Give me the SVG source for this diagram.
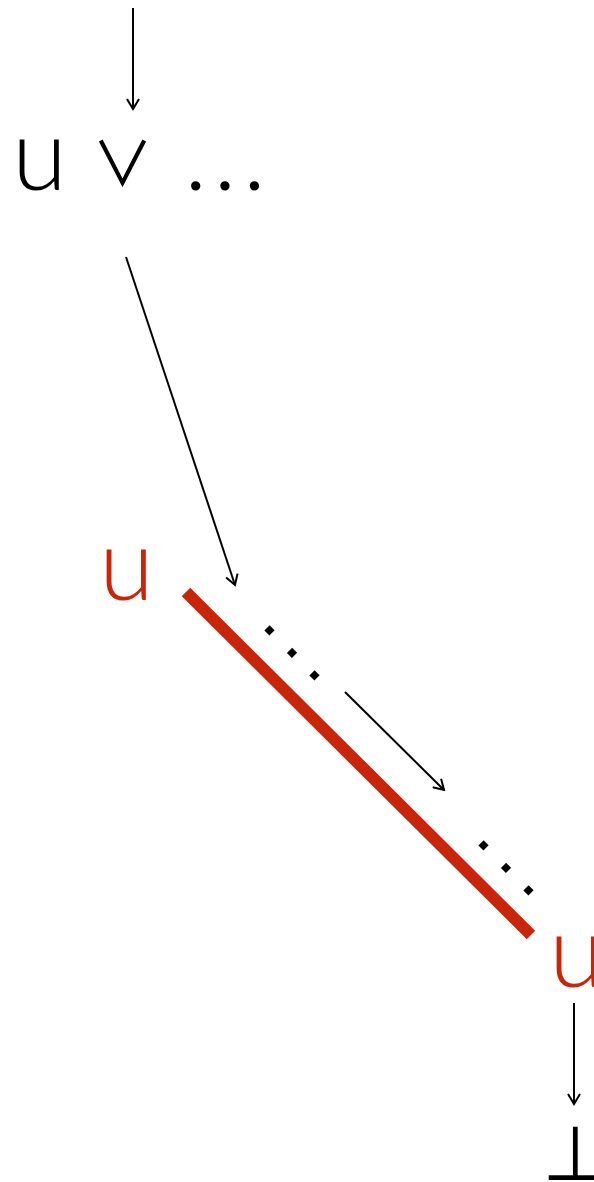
<svg xmlns="http://www.w3.org/2000/svg" width="594" height="1182" viewBox="0 0 594 1182">
<defs>
<marker id="ah" markerWidth="14" markerHeight="14" viewBox="-12 -7 14 14" refX="0" refY="0" orient="auto" markerUnits="userSpaceOnUse">
<path d="M-10,-6 L0,0 L-10,6" fill="none" stroke="#000" stroke-width="2"/>
</marker>
<style>
.sym{font-family:"Lato","Liberation Sans",sans-serif;font-weight:300;font-size:100px}
.op{font-family:"Noto Sans CJK JP","DejaVu Sans",sans-serif;font-weight:400;font-size:61px}
.blk{fill:#000}
.red{fill:#c8250a}
.dots{font-family:"Liberation Sans",sans-serif;font-weight:bold;font-size:50px;fill:#000}
.arr{stroke:#000;stroke-width:2;fill:none;marker-end:url(#ah)}
</style>
</defs>
<g id="top">
<text class="sym blk" x="12" y="190">u</text>
<text class="op blk" x="92" y="186">∨</text>
<text class="sym blk" x="184" y="190" letter-spacing="6">...</text>
</g>
<g id="redU1"><text class="sym red" x="99" y="600">u</text></g>
<g id="redU2"><text class="sym red" x="549" y="987">u</text></g>
<g id="bottom"><text class="blk" x="542" y="1180" font-family="DejaVu Sans" font-size="76">⊥</text></g>
<g id="link">
<line x1="186" y1="592" x2="531" y2="935" stroke="#c8250a" stroke-width="12"/>
<text class="dots" transform="translate(262,628) rotate(45)" letter-spacing="18">...</text>
<text class="dots" transform="translate(476,843) rotate(45)" letter-spacing="18">...</text>
</g>
<g id="connectors">
<line class="arr" x1="133" y1="8" x2="133" y2="109"/>
<line class="arr" x1="126" y1="257" x2="235" y2="585"/>
<line class="arr" x1="345" y1="692" x2="444" y2="790"/>
<line class="arr" x1="574" y1="1003" x2="574" y2="1104"/>
</g>
</svg>
